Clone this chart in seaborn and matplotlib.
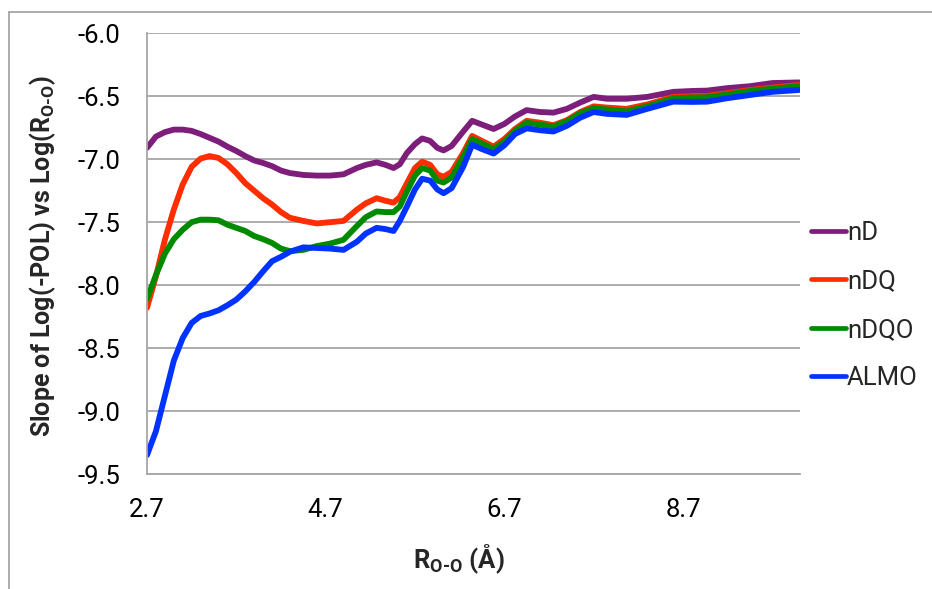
import matplotlib
matplotlib.use("Agg")
import matplotlib.pyplot as plt
import seaborn as sns
import pandas as pd
from matplotlib.lines import Line2D

# ---- data ----
r_oo = [2.70, 2.80, 2.90, 3.00, 3.10, 3.20, 3.30, 3.40, 3.50, 3.60, 3.70, 3.80,
        3.90, 4.00, 4.10, 4.20, 4.30, 4.45, 4.60, 4.75, 4.90, 5.05, 5.15, 5.27,
        5.37, 5.46, 5.53, 5.61, 5.70, 5.78, 5.87, 5.95, 6.02, 6.11, 6.24, 6.34,
        6.45, 6.58, 6.70, 6.82, 6.95, 7.10, 7.25, 7.40, 7.55, 7.70, 7.85, 8.07,
        8.30, 8.59, 8.80, 8.97, 9.20, 9.45, 9.70, 10.0]

nD = [-6.91, -6.82, -6.785, -6.765, -6.765, -6.775, -6.80, -6.83, -6.86, -6.90,
      -6.935, -6.975, -7.01, -7.03, -7.055, -7.09, -7.11, -7.125, -7.13, -7.13,
      -7.12, -7.07, -7.045, -7.025, -7.045, -7.07, -7.04, -6.95, -6.88, -6.835,
      -6.855, -6.91, -6.93, -6.895, -6.78, -6.695, -6.725, -6.76, -6.72, -6.66,
      -6.61, -6.625, -6.63, -6.60, -6.55, -6.505, -6.52, -6.52, -6.505, -6.465,
      -6.458, -6.455, -6.435, -6.42, -6.395, -6.39]

nDQ = [-8.18, -7.93, -7.64, -7.40, -7.20, -7.06, -6.995, -6.975, -6.99, -7.04,
       -7.11, -7.19, -7.25, -7.31, -7.36, -7.42, -7.465, -7.49, -7.51, -7.50,
       -7.49, -7.40, -7.35, -7.31, -7.33, -7.345, -7.30, -7.19, -7.07, -7.02,
       -7.045, -7.12, -7.14, -7.10, -6.95, -6.815, -6.855, -6.90, -6.84, -6.76,
       -6.695, -6.71, -6.73, -6.69, -6.625, -6.58, -6.59, -6.60, -6.565, -6.505,
       -6.50, -6.497, -6.475, -6.45, -6.43, -6.41]

nDQO = [-8.11, -7.92, -7.75, -7.635, -7.56, -7.50, -7.48, -7.48, -7.485, -7.52,
        -7.545, -7.57, -7.61, -7.635, -7.665, -7.71, -7.73, -7.72, -7.69, -7.67,
        -7.64, -7.53, -7.46, -7.415, -7.42, -7.42, -7.375, -7.255, -7.13, -7.07,
        -7.09, -7.17, -7.185, -7.145, -6.98, -6.84, -6.875, -6.92, -6.86, -6.775,
        -6.71, -6.725, -6.74, -6.70, -6.635, -6.595, -6.605, -6.62, -6.58, -6.516,
        -6.51, -6.508, -6.485, -6.458, -6.44, -6.42]

ALMO = [-9.35, -9.16, -8.88, -8.60, -8.42, -8.30, -8.245, -8.225, -8.20, -8.16,
        -8.115, -8.05, -7.975, -7.89, -7.81, -7.775, -7.735, -7.70, -7.705, -7.71,
        -7.72, -7.655, -7.59, -7.545, -7.555, -7.57, -7.49, -7.375, -7.24, -7.155,
        -7.17, -7.24, -7.27, -7.23, -7.06, -6.885, -6.92, -6.955, -6.89, -6.80,
        -6.755, -6.77, -6.78, -6.735, -6.67, -6.625, -6.64, -6.648, -6.60, -6.543,
        -6.545, -6.543, -6.515, -6.49, -6.465, -6.45]

series_names = ["nD", "nDQ", "nDQO", "ALMO"]
series_colors = ["#7C1E7A", "#FF2D00", "#008A00", "#0033FF"]
x_ticks = [2.7, 4.7, 6.7, 8.7]
x_tick_labels = ["2.7", "4.7", "6.7", "8.7"]
y_ticks = [-6.0, -6.5, -7.0, -7.5, -8.0, -8.5, -9.0, -9.5]

# ---- long-form table ----
frames = []
for name, vals in zip(series_names, [nD, nDQ, nDQO, ALMO]):
    frames.append(pd.DataFrame({"R": r_oo, "slope": vals, "model": name}))
df = pd.concat(frames, ignore_index=True)

sns.set_theme(style="white")
plt.rcParams["font.family"] = ["Roboto", "DejaVu Sans"]
plt.rcParams["axes.unicode_minus"] = False
plt.rcParams["mathtext.fontset"] = "custom"
plt.rcParams["mathtext.rm"] = "Roboto:weight=bold"
plt.rcParams["mathtext.bf"] = "Roboto:weight=bold"

fig = plt.figure(figsize=(9.32, 5.89), dpi=100)
W, H = 932, 589
ax = fig.add_axes([147 / W, 1 - 474 / H, (800 - 147) / W, (474 - 33.3) / H])

sns.lineplot(data=df, x="R", y="slope", hue="model", hue_order=series_names,
             palette=series_colors, linewidth=4.2, ax=ax, legend=False,
             sort=False, estimator=None)
for ln in ax.get_lines():
    ln.set_solid_joinstyle("round")
    ln.set_solid_capstyle("round")

grey = "#A6A6A6"
ax.set_xlim(2.7, 10.01)
ax.set_ylim(-9.5, -6.0)
ax.set_xticks(x_ticks)
ax.set_xticklabels(x_tick_labels)
ax.set_yticks(y_ticks)
ax.set_yticklabels([f"{v:.1f}" for v in y_ticks])
ax.yaxis.grid(True, color=grey, linewidth=1.3)
ax.xaxis.grid(False)
ax.set_axisbelow(True)
for s in ["top", "right"]:
    ax.spines[s].set_visible(False)
for s in ["left", "bottom"]:
    ax.spines[s].set_color(grey)
    ax.spines[s].set_linewidth(1.3)
ax.tick_params(axis="both", direction="out", length=7.2, width=1.0, color=grey,
               labelsize=18.5, labelcolor="black")
ax.tick_params(axis="y", pad=12)
ax.tick_params(axis="x", pad=10)

ax.set_xlabel(r"R$_{\mathbf{O\text{-}O}}$ (Å)", fontsize=18.5, fontweight="bold",
              va="baseline")
ax.xaxis.set_label_coords((459 - 147) / 653, -(568 - 474) / 440.7)
ax.set_ylabel(r"Slope of Log(-POL) vs Log(R$_{\mathbf{O\text{-}O}}$)", fontsize=18,
              fontweight="bold", va="center")
ax.yaxis.set_label_coords((43 - 147) / 653, 0.495)

handles = [Line2D([0], [0], color=c, linewidth=3.4, solid_capstyle="round")
           for c in series_colors]
ax.legend(handles, series_names, loc="upper left",
          bbox_to_anchor=(811 / W, 1 - 221 / H), bbox_transform=fig.transFigure,
          frameon=False, fontsize=18.5, handlelength=1.35, handletextpad=0.05,
          labelspacing=0.95, borderpad=0, borderaxespad=0)

# chart-area border (left and top edges visible)
fig.add_artist(Line2D([9.3 / W, 9.3 / W], [0, 1 - 12.3 / H], color=grey,
                      linewidth=1.3, transform=fig.transFigure))
fig.add_artist(Line2D([9.3 / W, 1], [1 - 12.3 / H, 1 - 12.3 / H], color=grey,
                      linewidth=1.3, transform=fig.transFigure))

fig.savefig("out.png", dpi=100)
